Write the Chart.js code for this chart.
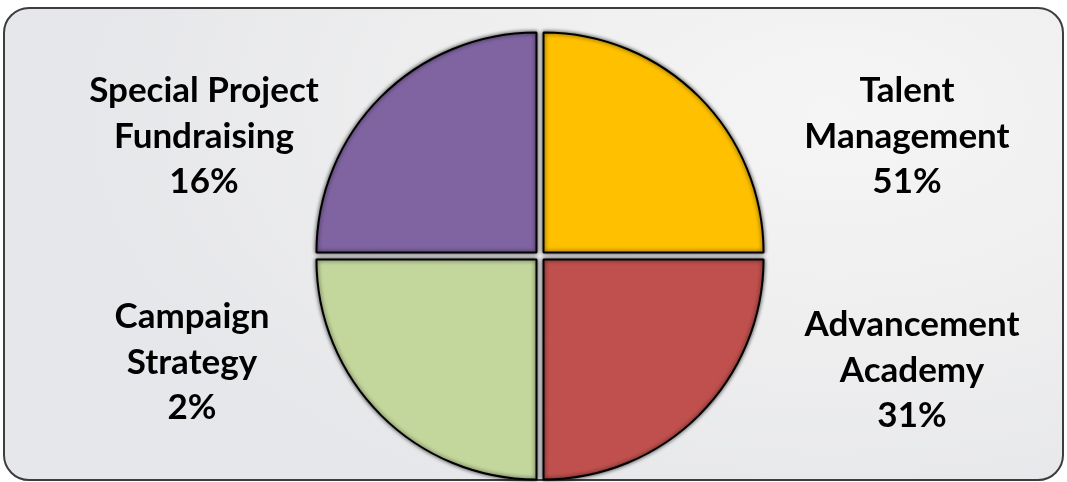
<!DOCTYPE html>
<html>
<head>
<meta charset="utf-8">
<script src="https://cdn.jsdelivr.net/npm/chart.js@4.4.1/dist/chart.umd.min.js"></script>
<style>
  html, body { margin: 0; padding: 0; width: 1067px; height: 482px; overflow: hidden; background: #ffffff; }
  #frame {
    position: absolute; left: 3px; top: 7px; width: 1057px; height: 470px;
    border: 2.5px solid #3d3d3d; border-radius: 26px;
    background: radial-gradient(ellipse 70% 90% at 78% 22%, #f5f5f5 0%, #eeeeef 55%, #e6e7ea 100%);
  }
  #wrap { position: absolute; left: 0; top: 0; width: 1067px; height: 482px; }
</style>
</head>
<body>
<div id="frame"></div>
<div id="wrap"><canvas id="c" width="1067" height="482"></canvas></div>
<script>
// ---- data ----
const categories = ['Talent Management', 'Advancement Academy', 'Campaign Strategy', 'Special Project Fundraising'];
const labelLines = [['Talent', 'Management'], ['Advancement', 'Academy'], ['Campaign', 'Strategy'], ['Special Project', 'Fundraising']];
const percentLabels = ['51%', '31%', '2%', '16%'];
// the slices are drawn as four equal quarters in the picture
const sliceShares = [25, 25, 25, 25];
const sliceColors = ['#FFC000', '#C0504D', '#C3D69B', '#8064A2'];

// label placement (style/layout, relative to the pie centre)
const labelLayout = [
  { dx: 367, firstBaseline: -154 },
  { dx: 372, firstBaseline: 80 },
  { dx: -348, firstBaseline: 72 },
  { dx: -336, firstBaseline: -154 }
];

const shadowPlugin = {
  id: 'sliceShadow',
  beforeDatasetDraw(chart) {
    const ctx = chart.ctx;
    ctx.save();
    ctx.shadowColor = 'rgba(0,0,0,0.7)';
    ctx.shadowBlur = 4;
    ctx.shadowOffsetX = 0;
    ctx.shadowOffsetY = 0;
  },
  afterDatasetDraw(chart) {
    chart.ctx.restore();
  }
};

const labelPlugin = {
  id: 'outerLabels',
  afterDraw(chart) {
    const ctx = chart.ctx;
    const arc = chart.getDatasetMeta(0).data[0];
    const cx = arc.x, cy = arc.y;
    ctx.save();
    ctx.fillStyle = '#000000';
    ctx.font = 'bold 35px Lato, "Open Sans", sans-serif';
    ctx.textAlign = 'center';
    ctx.textBaseline = 'alphabetic';
    const lh = 45.5;
    categories.forEach((cat, i) => {
      const lines = labelLines[i].concat([percentLabels[i]]);
      const L = labelLayout[i];
      lines.forEach((t, j) => {
        ctx.fillText(t, cx + L.dx, cy + L.firstBaseline + j * lh);
      });
    });
    ctx.restore();
  }
};

new Chart(document.getElementById('c'), {
  type: 'pie',
  data: {
    labels: categories,
    datasets: [{
      data: sliceShares,
      backgroundColor: sliceColors,
      borderColor: '#000000',
      borderWidth: 2,
      offset: 20,
      hoverOffset: 0,
      radius: 220
    }]
  },
  options: {
    responsive: false,
    animation: false,
    events: [],
    layout: { padding: { left: 13, right: 0, top: 30, bottom: 0 } },
    plugins: {
      legend: { display: false },
      tooltip: { enabled: false }
    }
  },
  plugins: [shadowPlugin, labelPlugin]
});
</script>
</body>
</html>
